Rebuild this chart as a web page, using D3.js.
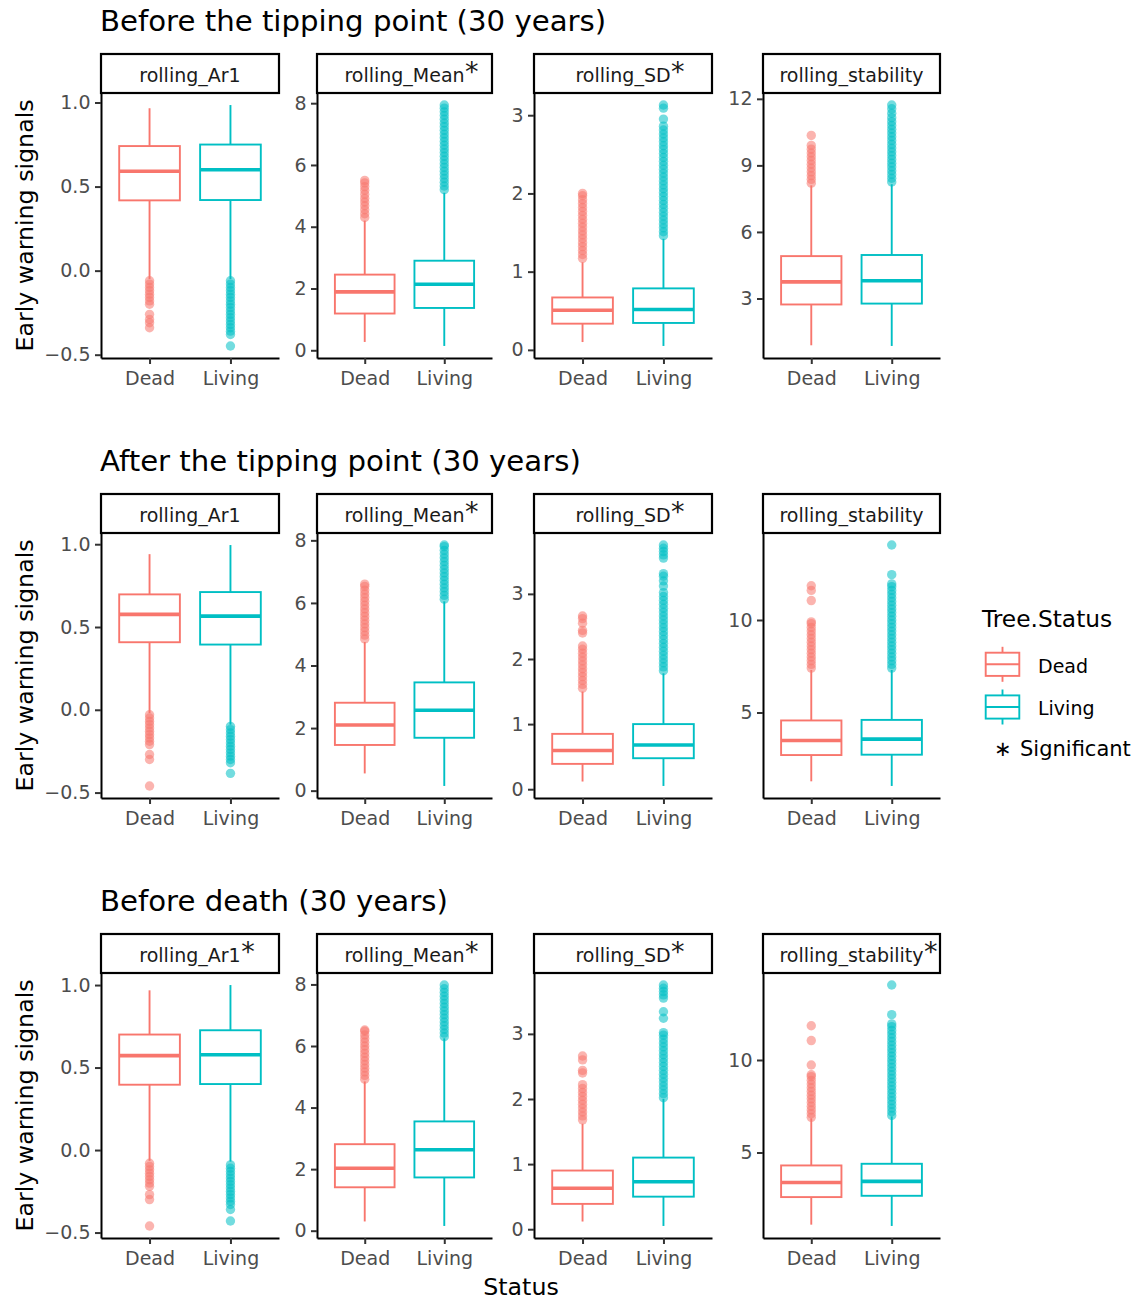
<!DOCTYPE html>
<html>
<head>
<meta charset="utf-8">
<script src="https://cdn.jsdelivr.net/npm/d3@7"></script>
<style>
  body { margin: 0; background: #fff; }
  svg { display: block; }
  text { font-family: "DejaVu Sans", sans-serif; }
</style>
</head>
<body>
<svg id="chart" width="1140" height="1301"></svg>
<script>
// ---- data ---------------------------------------------------------------
const periods = [
  "Before the tipping point (30 years)",
  "After the tipping point (30 years)",
  "Before death (30 years)"
];
const indicators = ["rolling_Ar1", "rolling_Mean", "rolling_SD", "rolling_stability"];
const statuses = ["Dead", "Living"];
// Wilcoxon-significant indicators per period
const significant = [
  [false, true, true, false],
  [false, true, true, false],
  [true, true, true, true]
];

// five-number summaries [lower whisker, Q1, median, Q3, upper whisker]; per indicator [Dead, Living]
const beforeTippingBoxes = [
  [[-0.05, 0.418, 0.591, 0.741, 0.966], [-0.05, 0.42, 0.60, 0.75, 0.985]],
  [[0.27, 1.19, 1.89, 2.45, 4.2], [0.14, 1.37, 2.14, 2.90, 5.1]],
  [[0.10, 0.335, 0.507, 0.67, 1.12], [0.05, 0.344, 0.516, 0.786, 1.42]],
  [[0.89, 2.73, 3.75, 4.91, 8.1], [0.86, 2.77, 3.80, 4.96, 8.15]]
];
const afterTippingBoxes = [
  [[-0.02, 0.408, 0.576, 0.697, 0.94], [-0.09, 0.394, 0.566, 0.711, 0.995]],
  [[0.55, 1.46, 2.10, 2.81, 4.75], [0.15, 1.69, 2.57, 3.46, 6.05]],
  [[0.118, 0.389, 0.594, 0.85, 1.5], [0.05, 0.476, 0.68, 1.0, 1.78]],
  [[1.28, 2.70, 3.49, 4.57, 7.3], [1.03, 2.72, 3.56, 4.6, 7.3]]
];
const beforeDeathBoxes = [
  [[-0.065, 0.396, 0.572, 0.70, 0.968], [-0.07, 0.40, 0.578, 0.726, 1.0]],
  [[0.30, 1.41, 2.03, 2.81, 4.85], [0.154, 1.73, 2.63, 3.55, 6.25]],
  [[0.118, 0.389, 0.63, 0.901, 1.62], [0.05, 0.50, 0.73, 1.10, 2.0]],
  [[1.10, 2.59, 3.38, 4.30, 6.85], [1.03, 2.66, 3.44, 4.39, 6.95]]
];

// outlying observations; per indicator [Dead, Living]
const beforeTippingOutliers = [
  [[-0.06, -0.08, -0.10, -0.12, -0.14, -0.16, -0.18, -0.20, -0.26, -0.29, -0.31, -0.34],
   [-0.06, -0.08, -0.10, -0.12, -0.14, -0.16, -0.18, -0.20, -0.22, -0.24, -0.26, -0.28, -0.30, -0.32, -0.34, -0.36, -0.38, -0.448]],
  [[4.3, 4.42, 4.55, 4.68, 4.8, 4.92, 5.05, 5.18, 5.3, 5.42, 5.5],
   [5.2, 5.32, 5.44, 5.56, 5.68, 5.8, 5.92, 6.04, 6.16, 6.28, 6.4, 6.52, 6.64, 6.76, 6.88, 7.0, 7.12, 7.24, 7.36, 7.48, 7.6, 7.72, 7.84, 7.94]],
  [[1.17, 1.22, 1.27, 1.32, 1.37, 1.42, 1.47, 1.52, 1.57, 1.62, 1.67, 1.72, 1.77, 1.82, 1.87, 1.92, 1.97, 2.0],
   [1.46, 1.51, 1.56, 1.61, 1.66, 1.71, 1.76, 1.81, 1.86, 1.91, 1.96, 2.01, 2.06, 2.11, 2.16, 2.21, 2.26, 2.31, 2.36, 2.41, 2.46, 2.51, 2.56, 2.61, 2.66, 2.71, 2.76, 2.81, 2.86, 2.95, 3.09, 3.13]],
  [[8.2, 8.37, 8.54, 8.71, 8.88, 9.05, 9.22, 9.39, 9.56, 9.73, 9.9, 10.35],
   [8.25, 8.42, 8.59, 8.76, 8.93, 9.1, 9.27, 9.44, 9.61, 9.78, 9.95, 10.12, 10.29, 10.46, 10.63, 10.8, 10.97, 11.15, 11.35, 11.55, 11.72]]
];
const afterTippingOutliers = [
  [[-0.03, -0.05, -0.07, -0.09, -0.11, -0.13, -0.15, -0.17, -0.19, -0.21, -0.27, -0.30, -0.46],
   [-0.10, -0.12, -0.14, -0.16, -0.18, -0.20, -0.22, -0.24, -0.26, -0.28, -0.30, -0.32, -0.384]],
  [[4.85, 4.97, 5.09, 5.21, 5.33, 5.45, 5.57, 5.69, 5.81, 5.93, 6.05, 6.17, 6.29, 6.41, 6.53, 6.6],
   [6.12, 6.24, 6.36, 6.48, 6.6, 6.72, 6.84, 6.96, 7.08, 7.2, 7.32, 7.44, 7.56, 7.68, 7.8, 7.85]],
  [[1.55, 1.61, 1.67, 1.73, 1.79, 1.85, 1.91, 1.97, 2.03, 2.09, 2.15, 2.2, 2.4, 2.44, 2.55, 2.62, 2.66],
   [1.82, 1.88, 1.94, 2.0, 2.06, 2.12, 2.18, 2.24, 2.3, 2.36, 2.42, 2.48, 2.54, 2.6, 2.66, 2.72, 2.78, 2.84, 2.9, 2.96, 3.02, 3.12, 3.2, 3.27, 3.31, 3.55, 3.6, 3.65, 3.7, 3.75]],
  [[7.4, 7.6, 7.8, 8.0, 8.2, 8.4, 8.6, 8.8, 9.0, 9.2, 9.4, 9.6, 9.8, 9.9, 11.05, 11.6, 11.85],
   [7.4, 7.6, 7.8, 8.0, 8.2, 8.4, 8.6, 8.8, 9.0, 9.2, 9.4, 9.6, 9.8, 10.0, 10.2, 10.4, 10.6, 10.8, 11.0, 11.2, 11.4, 11.6, 11.8, 11.95, 12.45, 14.05]]
];
const beforeDeathOutliers = [
  [[-0.08, -0.10, -0.12, -0.14, -0.16, -0.18, -0.20, -0.22, -0.27, -0.30, -0.46],
   [-0.09, -0.11, -0.13, -0.15, -0.17, -0.19, -0.21, -0.23, -0.25, -0.27, -0.29, -0.31, -0.33, -0.36, -0.43]],
  [[4.92, 5.04, 5.16, 5.28, 5.4, 5.52, 5.64, 5.76, 5.88, 6.0, 6.12, 6.24, 6.36, 6.48, 6.52],
   [6.3, 6.42, 6.54, 6.66, 6.78, 6.9, 7.02, 7.14, 7.26, 7.38, 7.5, 7.62, 7.74, 7.86, 7.98]],
  [[1.68, 1.74, 1.8, 1.86, 1.92, 1.98, 2.04, 2.1, 2.16, 2.22, 2.4, 2.44, 2.6, 2.66],
   [2.02, 2.08, 2.14, 2.2, 2.26, 2.32, 2.38, 2.44, 2.5, 2.56, 2.62, 2.68, 2.74, 2.8, 2.86, 2.92, 2.98, 3.02, 3.24, 3.34, 3.55, 3.6, 3.65, 3.7, 3.75]],
  [[6.9, 7.1, 7.3, 7.5, 7.7, 7.9, 8.1, 8.3, 8.5, 8.7, 8.9, 9.1, 9.2, 9.73, 11.05, 11.85],
   [7.0, 7.2, 7.4, 7.6, 7.8, 8.0, 8.2, 8.4, 8.6, 8.8, 9.0, 9.2, 9.4, 9.6, 9.8, 10.0, 10.2, 10.4, 10.6, 10.8, 11.0, 11.2, 11.4, 11.6, 11.8, 11.95, 12.45, 14.05]]
];

// axis breaks
const ar1Ticks = [-0.5, 0, 0.5, 1];
const meanTicks = [0, 2, 4, 6, 8];
const sdTicks = [0, 1, 2, 3];
const stabilityTicks = [[3, 6, 9, 12], [5, 10], [5, 10]];

// ---- drawing ------------------------------------------------------------
const boxesByPeriod = [beforeTippingBoxes, afterTippingBoxes, beforeDeathBoxes];
const outliersByPeriod = [beforeTippingOutliers, afterTippingOutliers, beforeDeathOutliers];
const color = d3.scaleOrdinal().domain(statuses).range(["#F8766D", "#00BFC4"]);

const svg = d3.select("#chart");
svg.append("rect").attr("width", 1140).attr("height", 1301).attr("fill", "#fff");

const panelLeft = [101, 317, 534, 763];
const panelWidth = [178, 175, 178, 177];
const rowStep = 440;
const stripH = 39;
const panelTop0 = 93, panelBottom0 = 358;

function ticksFor(row, ind) {
  return [ar1Ticks, meanTicks, sdTicks, stabilityTicks[row]][ind];
}
const fmtAr1 = d3.format(".1f");
const fmtInt = d3.format("d");

periods.forEach((title, r) => {
  const off = r * rowStep;
  const top = panelTop0 + off, bottom = panelBottom0 + off;

  svg.append("text")
    .attr("x", 100).attr("y", 31 + off)
    .attr("font-size", 29.2).attr("fill", "#000")
    .text(title);

  svg.append("text")
    .attr("transform", `translate(33,${(top + bottom) / 2}) rotate(-90)`)
    .attr("text-anchor", "middle")
    .attr("font-size", 23.7).attr("fill", "#000")
    .text("Early warning signals");

  indicators.forEach((ind, i) => {
    const x0 = panelLeft[i], w = panelWidth[i];
    const boxes = boxesByPeriod[r][i];
    const outs = outliersByPeriod[r][i];
    const all = boxes.flat().concat(outs.flat());
    const [mn, mx] = d3.extent(all);
    const pad = (mx - mn) * 0.05;
    const y = d3.scaleLinear().domain([mn - pad, mx + pad]).range([bottom, top]);
    const x = d3.scalePoint().domain(statuses).range([0, w]).padding(0.6);
    const bw = x.step() * 0.75;

    const g = svg.append("g").attr("transform", `translate(${x0},0)`);

    // outliers, whiskers, boxes
    statuses.forEach((s, k) => {
      const cx = x(s);
      const [lo, q1, med, q3, hi] = boxes[k];
      const col = color(s);
      g.append("g").selectAll("circle").data(outs[k]).join("circle")
        .attr("cx", cx).attr("cy", d => y(d)).attr("r", 4.7)
        .attr("fill", col).attr("fill-opacity", 0.55);
      g.append("line").attr("x1", cx).attr("x2", cx).attr("y1", y(q3)).attr("y2", y(hi))
        .attr("stroke", col).attr("stroke-width", 1.9);
      g.append("line").attr("x1", cx).attr("x2", cx).attr("y1", y(q1)).attr("y2", y(lo))
        .attr("stroke", col).attr("stroke-width", 1.9);
      g.append("rect").attr("x", cx - bw / 2).attr("width", bw)
        .attr("y", y(q3)).attr("height", y(q1) - y(q3))
        .attr("fill", "#fff").attr("stroke", col).attr("stroke-width", 1.9);
      g.append("line").attr("x1", cx - bw / 2).attr("x2", cx + bw / 2)
        .attr("y1", y(med)).attr("y2", y(med))
        .attr("stroke", col).attr("stroke-width", 3.6);
    });

    // axes
    const fmt = i === 0 ? fmtAr1 : fmtInt;
    const yAxis = g.append("g")
      .call(d3.axisLeft(y).tickValues(ticksFor(r, i)).tickFormat(fmt)
        .tickSize(6).tickSizeOuter(0).tickPadding(4.5));
    const xAxis = g.append("g").attr("transform", `translate(0,${bottom})`)
      .call(d3.axisBottom(x).tickSize(6).tickSizeOuter(0).tickPadding(8));
    [yAxis, xAxis].forEach(a => {
      a.select(".domain").attr("stroke", "#000").attr("stroke-width", 2);
      a.selectAll(".tick line").attr("stroke", "#333").attr("stroke-width", 2);
      a.selectAll(".tick text").attr("fill", "#4D4D4D").attr("font-size", 19)
        .attr("font-family", "DejaVu Sans");
    });

    // strip
    g.append("rect").attr("x", 0).attr("y", top - stripH).attr("width", w).attr("height", stripH)
      .attr("fill", "#fff").attr("stroke", "#000").attr("stroke-width", 2.2);
    const label = g.append("text").attr("x", w / 2).attr("y", top - stripH + 27.5)
      .attr("text-anchor", "middle").attr("font-size", 19).attr("fill", "#1A1A1A")
      .text(ind);
    if (significant[r][i]) {
      const len = label.node().getComputedTextLength();
      g.append("text").attr("x", w / 2 + len / 2 + 0.5).attr("y", top - stripH + 26.5)
        .attr("font-size", 27).attr("fill", "#1A1A1A").text("*");
    }
  });
});

// shared x title
svg.append("text").attr("x", 521).attr("y", 1295).attr("text-anchor", "middle")
  .attr("font-size", 23.7).attr("fill", "#000").text("Status");

// legend
const legend = svg.append("g");
legend.append("text").attr("x", 982).attr("y", 627).attr("font-size", 23.3)
  .attr("fill", "#000").text("Tree.Status");
const keyCentres = [664.3, 707];
statuses.forEach((s, k) => {
  const cy = keyCentres[k], col = color(s);
  const kx0 = 985.7, kx1 = 1019.3, kc = (kx0 + kx1) / 2;
  legend.append("line").attr("x1", kc).attr("x2", kc).attr("y1", cy - 17.5).attr("y2", cy + 17.5)
    .attr("stroke", col).attr("stroke-width", 1.9);
  legend.append("rect").attr("x", kx0).attr("y", cy - 11.6).attr("width", kx1 - kx0).attr("height", 23.2)
    .attr("fill", "#fff").attr("stroke", col).attr("stroke-width", 1.9);
  legend.append("line").attr("x1", kx0).attr("x2", kx1).attr("y1", cy).attr("y2", cy)
    .attr("stroke", col).attr("stroke-width", 1.9);
  legend.append("text").attr("x", 1038).attr("y", cy + 8.2).attr("font-size", 19)
    .attr("fill", "#000").text(s);
});
legend.append("text").attr("x", 994).attr("y", 756).attr("font-size", 21)
  .attr("fill", "#000").text("\u2217");
legend.append("text").attr("x", 1020).attr("y", 756).attr("font-size", 21)
  .attr("fill", "#000").text("Significant");
</script>
</body>
</html>
